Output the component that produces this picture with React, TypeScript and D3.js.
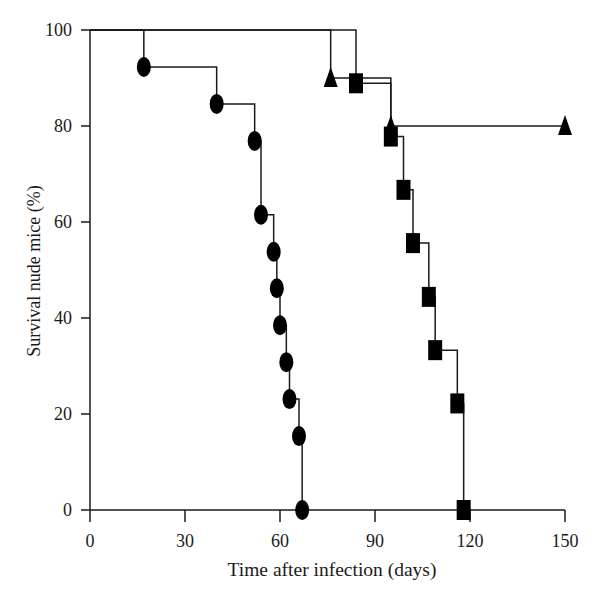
import React from "react";
import * as d3 from "d3";

const circleDays = [0, 17, 40, 52, 54, 58, 59, 60, 62, 63, 66, 67];
const circleSurv = [100, 92.3, 84.6, 76.9, 61.5, 53.8, 46.2, 38.5, 30.8, 23.1, 15.4, 0];

const squareDays = [0, 84, 95, 99, 102, 107, 109, 116, 118];
const squareSurv = [100, 88.9, 77.8, 66.7, 55.6, 44.4, 33.3, 22.2, 0];

const triangleDays = [0, 76, 95, 150];
const triangleSurv = [100, 90, 80, 80];

const xTicks = [0, 30, 60, 90, 120, 150];
const yTicks = [0, 20, 40, 60, 80, 100];

const xLabel = "Time after infection (days)";
const yLabel = "Survival nude mice (%)";

const W = 600;
const H = 604;
const x = d3.scaleLinear().domain([0, 150]).range([90, 565]);
const y = d3.scaleLinear().domain([0, 100]).range([510, 30]);

const FONT = "'Liberation Serif', 'Times New Roman', serif";
const INK = "#1a1a1a";

function stepPath(days: number[], surv: number[]) {
  const pts: [number, number][] = days.map((d, i) => [d, surv[i]]);
  const line = d3
    .line<[number, number]>()
    .x((p) => x(p[0]))
    .y((p) => y(p[1]))
    .curve(d3.curveStepAfter);
  return line(pts) || "";
}

export default function App() {
  const mw = 14;
  const mh = 20;
  return (
    <svg width={W} height={H} style={{ display: "block", position: "absolute", left: 0, top: 0 }}>
      <rect width={W} height={H} fill="#fff" />
      {/* axes */}
      <line x1={x(0)} x2={x(150)} y1={y(0)} y2={y(0)} stroke={INK} strokeWidth={1.5} />
      <line x1={x(0)} x2={x(0)} y1={y(0)} y2={y(100)} stroke={INK} strokeWidth={1.5} />
      {xTicks.map((t) => (
        <g key={"x" + t}>
          <line x1={x(t)} x2={x(t)} y1={y(0)} y2={y(0) + 12} stroke={INK} strokeWidth={1.5} />
          <text x={x(t)} y={547} textAnchor="middle" fontFamily={FONT} fontSize={18} fill={INK}>
            {t}
          </text>
        </g>
      ))}
      {yTicks.map((t) => (
        <g key={"y" + t}>
          <line x1={x(0) - 9} x2={x(0)} y1={y(t)} y2={y(t)} stroke={INK} strokeWidth={1.5} />
          <text x={72} y={y(t) + 6} textAnchor="end" fontFamily={FONT} fontSize={18} fill={INK}>
            {t}
          </text>
        </g>
      ))}
      <text x={332} y={576} textAnchor="middle" fontFamily={FONT} fontSize={19.5} fill={INK}>
        {xLabel}
      </text>
      <text
        transform={`translate(40, 271) rotate(-90)`}
        textAnchor="middle"
        fontFamily={FONT}
        fontSize={18}
        fill={INK}
      >
        {yLabel}
      </text>
      {/* curves */}
      <path d={stepPath(circleDays, circleSurv)} fill="none" stroke={INK} strokeWidth={1.5} />
      <path d={stepPath(squareDays, squareSurv)} fill="none" stroke={INK} strokeWidth={1.5} />
      <path d={stepPath(triangleDays, triangleSurv)} fill="none" stroke={INK} strokeWidth={1.5} />
      {/* markers */}
      {circleDays.slice(1).map((d, i) => (
        <ellipse key={"c" + i} cx={x(d)} cy={y(circleSurv[i + 1])} rx={mw / 2} ry={mh / 2} fill="#000" />
      ))}
      {squareDays.slice(1).map((d, i) => (
        <rect
          key={"s" + i}
          x={x(d) - mw / 2}
          y={y(squareSurv[i + 1]) - mh / 2}
          width={mw}
          height={mh}
          fill="#000"
        />
      ))}
      {triangleDays.slice(1).map((d, i) => {
        const cx = x(d);
        const cy = y(triangleSurv[i + 1]);
        return (
          <path
            key={"t" + i}
            d={`M${cx},${cy - mh / 2 - 1}L${cx + mw / 2},${cy + mh / 2 - 1}L${cx - mw / 2},${cy + mh / 2 - 1}Z`}
            fill="#000"
          />
        );
      })}
    </svg>
  );
}
